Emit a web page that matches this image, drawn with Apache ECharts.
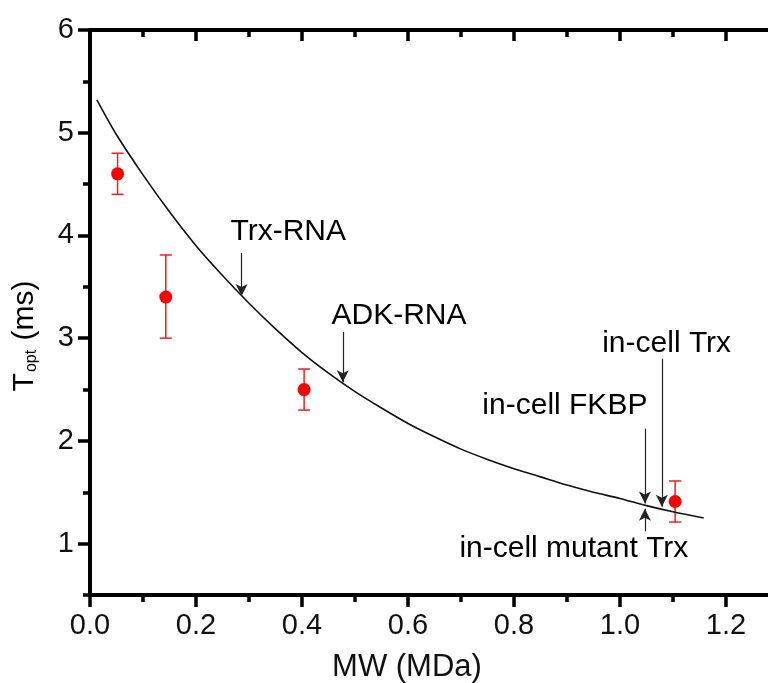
<!DOCTYPE html>
<html>
<head>
<meta charset="utf-8">
<title>Topt vs MW</title>
<script src="https://cdn.jsdelivr.net/npm/echarts@6/dist/echarts.min.js"></script>
<style>
  html, body { margin: 0; padding: 0; background: #fff; }
  #chart { width: 768px; height: 683px; }
</style>
</head>
<body>
<div id="chart"></div>
<script>
// fitted curve
const fitX = [0.013, 0.05, 0.1, 0.15, 0.2, 0.25, 0.3, 0.35, 0.4, 0.45, 0.5, 0.55, 0.6, 0.65, 0.7, 0.75, 0.8, 0.85, 0.9, 0.95, 1.0, 1.05, 1.1, 1.158];
const fitY = [5.32, 4.98, 4.59, 4.23, 3.90, 3.61, 3.34, 3.09, 2.86, 2.66, 2.48, 2.32, 2.17, 2.04, 1.92, 1.82, 1.73, 1.65, 1.57, 1.50, 1.44, 1.37, 1.31, 1.25];

// measured points with error bars
const mwX = [0.052, 0.143, 0.404, 1.104];
const toptY = [4.60, 3.40, 2.50, 1.41];
const errLow = [4.40, 3.00, 2.30, 1.21];
const errHigh = [4.80, 3.81, 2.70, 1.61];

// annotations: text centre and arrow (tail -> tip)
const noteText = ['Trx-RNA', 'ADK-RNA', 'in-cell Trx', 'in-cell FKBP', 'in-cell mutant Trx'];
const noteX = [0.374, 0.583, 1.088, 0.896, 0.913];
const noteY = [4.04, 3.22, 2.95, 2.34, 0.95];
const arrowX = [0.286, 0.477, 1.079, 1.047, 1.047];
const arrowFrom = [3.83, 3.06, 2.80, 2.12, 1.12];
const arrowTo = [3.41, 2.57, 1.36, 1.39, 1.34];

// ticks
const xMajor = [0, 0.2, 0.4, 0.6, 0.8, 1.0, 1.2];
const xMinor = [0.1, 0.3, 0.5, 0.7, 0.9, 1.1];
const yMajor = [1, 2, 3, 4, 5, 6];
const yMinor = [0.5, 1.5, 2.5, 3.5, 4.5, 5.5];

const FONT = 'Liberation Sans, Arial, sans-serif';
const INK = '#000';

const chart = echarts.init(document.getElementById('chart'));

const xRange = { type: 'value', min: 0, max: 1.3, splitLine: { show: false } };
const yRange = { type: 'value', min: 0.5, max: 6, splitLine: { show: false } };

function axisX(position, values, len, inside, withLine, withLabels) {
  return Object.assign({}, xRange, {
    position: position,
    axisLine: { show: withLine, onZero: false, lineStyle: { color: '#000', width: 4 } },
    axisTick: { show: true, customValues: values, inside: inside, length: len, lineStyle: { color: '#000', width: 3.5 } },
    axisLabel: withLabels ? {
      show: true, customValues: values, margin: 16, color: '#111', fontSize: 29, fontFamily: FONT,
      formatter: (v) => v.toFixed(1)
    } : { show: false }
  });
}

function axisY(position, values, len, inside, withLine, withLabels) {
  return Object.assign({}, yRange, {
    position: position,
    axisLine: { show: withLine, onZero: false, lineStyle: { color: '#000', width: 4 } },
    axisTick: { show: true, customValues: values, inside: inside, length: len, lineStyle: { color: '#000', width: 3.5 } },
    axisLabel: withLabels ? {
      show: true, customValues: values, margin: 16, color: '#111', fontSize: 29, fontFamily: FONT,
      formatter: (v) => String(Math.round(v))
    } : { show: false }
  });
}

function renderErrorBar(params, api) {
  const x = api.value(0);
  const lo = api.coord([x, api.value(1)]);
  const hi = api.coord([x, api.value(2)]);
  const half = 6;
  const style = { stroke: '#ff1a1a', lineWidth: 1.5 };
  return {
    type: 'group',
    children: [
      { type: 'line', shape: { x1: lo[0], y1: lo[1], x2: hi[0], y2: hi[1] }, style: style },
      { type: 'line', shape: { x1: lo[0] - half, y1: lo[1], x2: lo[0] + half, y2: lo[1] }, style: style },
      { type: 'line', shape: { x1: hi[0] - half, y1: hi[1], x2: hi[0] + half, y2: hi[1] }, style: style }
    ]
  };
}

const option = {
  animation: false,
  backgroundColor: '#fff',
  grid: { left: 90, top: 30, right: -11, bottom: 88, containLabel: false, outerBoundsMode: 'none' },
  xAxis: [
    axisX('bottom', xMajor, 12, false, true, true),
    axisX('bottom', xMinor, 7, false, false, false),
    axisX('top', xMajor, 11, true, true, false),
    axisX('top', xMinor, 7, true, false, false)
  ],
  yAxis: [
    axisY('left', yMajor, 12, false, true, true),
    axisY('left', yMinor, 7, false, false, false),
    axisY('right', yMajor, 11, true, true, false),
    axisY('right', yMinor, 7, true, false, false)
  ],
  graphic: [
    {
      type: 'text', x: 407, y: 667,
      style: { text: 'MW (MDa)', font: '31px ' + FONT, fill: '#111', textAlign: 'center', textVerticalAlign: 'middle' }
    },
    {
      type: 'text', x: 25, y: 336, rotation: Math.PI / 2,
      style: {
        text: '{m|T}{s|opt}{m| (ms)}',
        textAlign: 'center', textVerticalAlign: 'middle',
        rich: {
          m: { fontSize: 30, fontFamily: FONT, color: '#111', verticalAlign: 'bottom' },
          s: { fontSize: 16, fontFamily: FONT, color: '#111', verticalAlign: 'bottom', padding: [0, 1, 0, 1] }
        }
      }
    }
  ],
  series: [
    {
      name: 'fit',
      type: 'line',
      data: fitX.map((x, i) => [x, fitY[i]]),
      smooth: 0.3,
      showSymbol: false,
      lineStyle: { color: '#111', width: 1.6 },
      silent: true,
      markLine: {
        silent: true,
        symbol: ['none', 'arrow'],
        symbolSize: [9, 12],
        label: { show: false },
        lineStyle: { color: '#222', width: 1.2, type: 'solid' },
        data: arrowX.map((x, i) => [{ coord: [x, arrowFrom[i]] }, { coord: [x, arrowTo[i]] }])
      }
    },
    {
      name: 'error',
      type: 'custom',
      renderItem: renderErrorBar,
      data: mwX.map((x, i) => [x, errLow[i], errHigh[i]]),
      encode: { x: 0, y: [1, 2] },
      silent: true,
      z: 3
    },
    {
      name: 'Topt',
      type: 'scatter',
      data: mwX.map((x, i) => [x, toptY[i]]),
      symbolSize: 13,
      itemStyle: { color: '#ff0000', opacity: 1 },
      silent: true,
      z: 4
    },
    {
      name: 'notes',
      type: 'scatter',
      data: noteX.map((x, i) => [x, noteY[i]]),
      symbolSize: 0,
      itemStyle: { color: 'transparent' },
      silent: true,
      label: {
        show: true,
        position: 'inside',
        formatter: (p) => noteText[p.dataIndex],
        fontSize: 30,
        fontFamily: FONT,
        color: INK,
        opacity: 1,
        textBorderWidth: 0
      }
    }
  ]
};

chart.setOption(option);
</script>
</body>
</html>
